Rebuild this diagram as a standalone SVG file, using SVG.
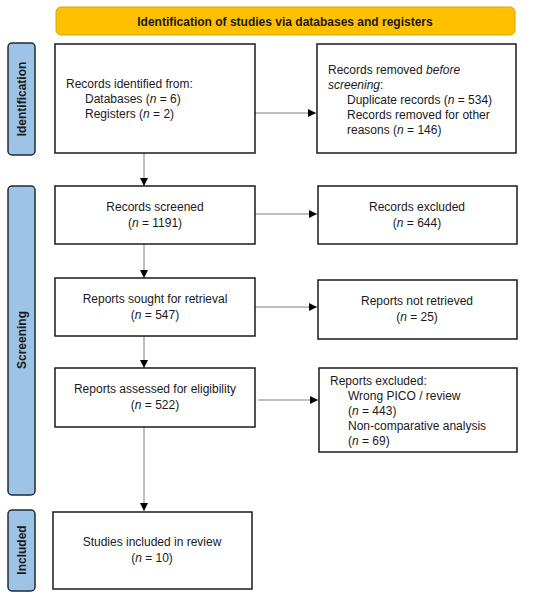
<svg xmlns="http://www.w3.org/2000/svg" width="550" height="599" viewBox="0 0 550 599">
<style>
text{font-family:"Liberation Sans",Arial,sans-serif;font-size:12px;fill:#1a1a1a}
.c{text-anchor:middle}
.b{font-weight:bold}
.box{fill:#fff;stroke:#1a1a1a;stroke-width:1.5}
.side{fill:#9dc3e6;stroke:#1f2a36;stroke-width:1.5}
.con{stroke:#7f7f7f;stroke-width:1;fill:none;marker-end:url(#ah)}
</style>
<defs>
<marker id="ah" viewBox="0 0 10 10" refX="10" refY="5" markerWidth="8" markerHeight="8" markerUnits="userSpaceOnUse" orient="auto">
<path d="M0,0L10,5L0,10z" fill="#000"/>
</marker>
</defs>
<rect width="550" height="599" fill="#fff"/>
<g id="header">
<rect x="56" y="7" width="459" height="28" rx="5" fill="#ffc000" stroke="#d9a300" stroke-width="1"/>
<text class="c b" x="285" y="26">Identification of studies via databases and registers</text>
</g>
<g id="side-identification">
<rect class="side" x="8" y="43" width="27" height="112" rx="4"/>
<text class="c b" transform="translate(26,99) rotate(-90)">Identification</text>
</g>
<g id="side-screening">
<rect class="side" x="8" y="186" width="27" height="309" rx="4"/>
<text class="c b" transform="translate(26,340) rotate(-90)">Screening</text>
</g>
<g id="side-included">
<rect class="side" x="8" y="510" width="27" height="81" rx="4"/>
<text class="c b" transform="translate(26,550) rotate(-90)">Included</text>
</g>
<g id="connectors">
<line class="con" x1="255" y1="113" x2="316" y2="113"/>
<line class="con" x1="144" y1="153" x2="144" y2="186"/>
<line class="con" x1="255" y1="214" x2="317" y2="214"/>
<line class="con" x1="144" y1="244" x2="144" y2="278"/>
<line class="con" x1="255" y1="307" x2="317" y2="307"/>
<line class="con" x1="144" y1="336" x2="144" y2="368"/>
<line class="con" x1="258" y1="400" x2="318" y2="400"/>
<line class="con" x1="144" y1="427" x2="144" y2="511"/>
</g>
<g id="records-identified">
<rect class="box" x="55" y="44" width="200" height="109"/>
<text x="66" y="88">Records identified from:</text>
<text x="85" y="103">Databases (<tspan font-style="italic">n</tspan> = 6)</text>
<text x="85" y="118">Registers (<tspan font-style="italic">n</tspan> = 2)</text>
</g>
<g id="records-removed">
<rect class="box" x="317" y="44" width="199" height="109"/>
<text x="328" y="74">Records removed <tspan font-style="italic">before</tspan></text>
<text x="328" y="89"><tspan font-style="italic">screening</tspan>:</text>
<text x="347" y="104">Duplicate records (<tspan font-style="italic">n</tspan> = 534)</text>
<text x="347" y="119">Records removed for other</text>
<text x="347" y="134">reasons (<tspan font-style="italic">n</tspan> = 146)</text>
</g>
<g id="records-screened">
<rect class="box" x="55" y="186" width="200" height="58"/>
<text class="c" x="155" y="211">Records screened</text>
<text class="c" x="155" y="227">(<tspan font-style="italic">n</tspan> = 1191)</text>
</g>
<g id="records-excluded">
<rect class="box" x="318" y="186" width="199" height="58"/>
<text class="c" x="417" y="211">Records excluded</text>
<text class="c" x="417" y="227">(<tspan font-style="italic">n</tspan> = 644)</text>
</g>
<g id="reports-sought">
<rect class="box" x="55" y="278" width="200" height="58"/>
<text class="c" x="155" y="303">Reports sought for retrieval</text>
<text class="c" x="155" y="319">(<tspan font-style="italic">n</tspan> = 547)</text>
</g>
<g id="reports-not-retrieved">
<rect class="box" x="318" y="280" width="199" height="59"/>
<text class="c" x="417" y="305">Reports not retrieved</text>
<text class="c" x="417" y="321">(<tspan font-style="italic">n</tspan> = 25)</text>
</g>
<g id="reports-assessed">
<rect class="box" x="55" y="368" width="200" height="59"/>
<text class="c" x="155" y="393">Reports assessed for eligibility</text>
<text class="c" x="155" y="409">(<tspan font-style="italic">n</tspan> = 522)</text>
</g>
<g id="reports-excluded">
<rect class="box" x="319" y="368" width="198" height="84"/>
<text x="330" y="385">Reports excluded:</text>
<text x="348" y="400">Wrong PICO / review</text>
<text x="348" y="415">(<tspan font-style="italic">n</tspan> = 443)</text>
<text x="348" y="430">Non-comparative analysis</text>
<text x="348" y="445">(<tspan font-style="italic">n</tspan> = 69)</text>
</g>
<g id="studies-included">
<rect class="box" x="53" y="512" width="199" height="77"/>
<text class="c" x="152" y="546">Studies included in review</text>
<text class="c" x="152" y="562">(<tspan font-style="italic">n</tspan> = 10)</text>
</g>
</svg>
